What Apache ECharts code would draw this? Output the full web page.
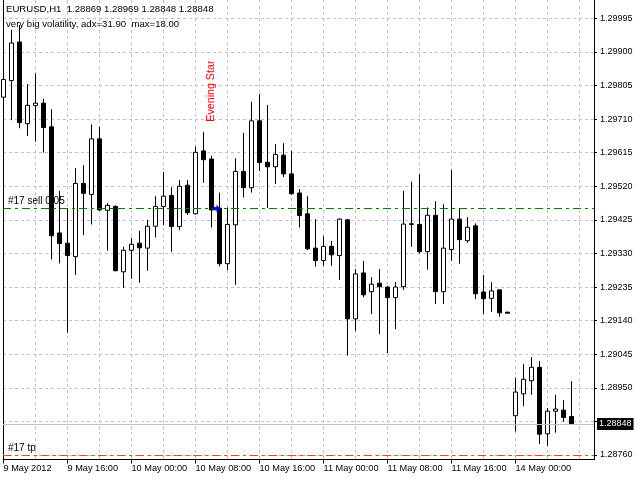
<!DOCTYPE html>
<html><head><meta charset="utf-8">
<script src="https://cdn.jsdelivr.net/npm/echarts@6/dist/echarts.min.js"></script>
<style>html,body{margin:0;padding:0;background:#fff}#c{width:640px;height:480px}</style>
</head><body><div id="c"></div>
<script>
const symbolName = 'EURUSD,H1';
const indicatorText = 'very big volatility, adx=31.90  max=18.00';

const opens = [1.29772,1.29819,1.29928,1.29697,1.29748,1.29755,1.29688,1.29388,1.29359,1.29321,
1.29528,1.29497,1.29654,1.29452,1.29463,1.29278,1.29339,1.29359,1.29345,1.29407,
1.29463,1.29494,1.29406,1.29523,1.29442,1.29620,1.29597,1.29458,1.29301,1.29411,
1.29562,1.29516,1.29705,1.29588,1.29575,1.29608,1.29555,1.29501,1.29442,1.29345,
1.29310,1.29350,1.29324,1.29425,1.29145,1.29275,1.29222,1.29246,1.29235,1.29205,
1.29236,1.29412,1.29412,1.29335,1.29438,1.29222,1.29341,1.29427,1.29366,1.29408,
1.29221,1.29203,1.29227,1.29164,1.28871,1.28933,1.28970,1.29008,1.28820,1.28884,
1.28887,1.28869];
const highs = [1.29910,1.29962,1.29976,1.29809,1.29839,1.29767,1.29738,1.29507,1.29458,1.29571,
1.29580,1.29695,1.29688,1.29472,1.29466,1.29349,1.29374,1.29394,1.29425,1.29492,
1.29560,1.29517,1.29538,1.29538,1.29632,1.29674,1.29606,1.29502,1.29460,1.29599,
1.29671,1.29759,1.29781,1.29750,1.29639,1.29642,1.29620,1.29512,1.29492,1.29427,
1.29379,1.29365,1.29429,1.29427,1.29286,1.29309,1.29263,1.29286,1.29238,1.29249,
1.29507,1.29533,1.29555,1.29460,1.29478,1.29469,1.29566,1.29458,1.29433,1.29415,
1.29269,1.29249,1.29227,1.29164,1.28979,1.29017,1.29037,1.29026,1.28893,1.28930,
1.28915,1.28969];
const lows = [1.29736,1.29707,1.29684,1.29662,1.29646,1.29615,1.29313,1.29302,1.29106,1.29269,
1.29382,1.29412,1.29450,1.29338,1.29280,1.29233,1.29258,1.29247,1.29281,1.29375,
1.29410,1.29335,1.29396,1.29439,1.29440,1.29530,1.29403,1.29293,1.29283,1.29241,
1.29488,1.29502,1.29563,1.29458,1.29526,1.29546,1.29495,1.29403,1.29340,1.29293,
1.29295,1.29295,1.29255,1.29041,1.29111,1.29206,1.29159,1.29102,1.29048,1.29116,
1.29227,1.29349,1.29330,1.29284,1.29187,1.29187,1.29309,1.29301,1.29360,1.29201,
1.29159,1.29165,1.29151,1.29161,1.28826,1.28898,1.28930,1.28791,1.28786,1.28823,
1.28854,1.28848];
const closes = [1.29822,1.29925,1.29700,1.29749,1.29755,1.29686,1.29380,1.29358,1.29324,1.29528,
1.29500,1.29654,1.29453,1.29466,1.29281,1.29339,1.29356,1.29346,1.29407,1.29463,
1.29492,1.29406,1.29520,1.29445,1.29616,1.29595,1.29453,1.29301,1.29412,1.29562,
1.29516,1.29705,1.29587,1.29575,1.29610,1.29555,1.29499,1.29437,1.29343,1.29310,
1.29350,1.29326,1.29427,1.29145,1.29272,1.29213,1.29243,1.29236,1.29205,1.29235,
1.29413,1.29414,1.29335,1.29438,1.29222,1.29345,1.29427,1.29369,1.29404,1.29216,
1.29202,1.29224,1.29162,1.29161,1.28938,1.28974,1.29008,1.28819,1.28884,1.28890,
1.28866,1.28848];

const timeTickBars = [0,8,16,24,32,40,48,56,64];
const timeTickLabels = ['9 May 2012','9 May 16:00','10 May 00:00','10 May 08:00','10 May 16:00',
  '11 May 00:00','11 May 08:00','11 May 16:00','14 May 00:00'];
const gridBars = [0,4,8,12,16,20,24,28,32,36,40,44,48,52,56,60,64,68,72];
const priceTicks = [1.28760,1.28855,1.28950,1.29045,1.29140,1.29235,1.29330,1.29425,1.29520,1.29615,1.29710,1.29805,1.29900,1.29995];
const priceLabels = [1.28760,1.28950,1.29045,1.29140,1.29235,1.29330,1.29425,1.29520,1.29615,1.29710,1.29805,1.29900,1.29995];

const orderText = '#17 sell 0.05';
const orderEntryBar = 27;
const orderEntryPrice = 1.29457;
const tpText = '#17 tp';
const tpPrice = 1.28760;
const patternName = 'Evening Star';
const patternBar = 26;
const patternPrice = 1.29789;
const lastIdx = closes.length - 1;
const currentPrice = closes[lastIdx];

const candleData = opens.map((o, i) => [i, o, closes[i], lows[i], highs[i]]);
const headerText = symbolName + '  ' + [opens[lastIdx], highs[lastIdx], lows[lastIdx], closes[lastIdx]].map(v => v.toFixed(5)).join(' ');

const FONT = 'Liberation Sans';
const chart = echarts.init(document.getElementById('c'), null, {renderer: 'canvas'});
const xMin = -0.0625, xMax = 73.8125;
chart.setOption({
  animation: false,
  backgroundColor: '#fff',
  title: [
    {text: headerText, left: 6, top: 4, padding: 0, textStyle: {fontFamily: FONT, fontSize: 9.6, fontWeight: 'normal', color: '#000'}},
    {text: indicatorText, left: 6, top: 19, padding: 0, textStyle: {fontFamily: FONT, fontSize: 9.6, fontWeight: 'normal', color: '#000'}}
  ],
  grid: {left: 3, right: 46, top: 0, bottom: 20.5, show: false},
  xAxis: [
    {
      type: 'value', min: xMin, max: xMax, position: 'bottom',
      axisLine: {show: true, onZero: false, lineStyle: {color: '#000', width: 1}},
      axisTick: {show: true, length: 4, customValues: timeTickBars, lineStyle: {color: '#000'}},
      axisLabel: {show: true, customValues: timeTickBars, align: 'left', margin: 4,
        fontFamily: FONT, fontSize: 9.2, color: '#000',
        formatter: v => timeTickLabels[timeTickBars.indexOf(Math.round(v))] || ''},
      splitLine: {show: false}
    },
    {
      type: 'value', min: xMin, max: xMax, position: 'bottom',
      axisLine: {show: false, onZero: false}, axisLabel: {show: false},
      axisTick: {show: false, customValues: gridBars},
      splitLine: {show: true, lineStyle: {color: '#c0c0c0', type: [3, 3], width: 1}}
    }
  ],
  yAxis: [
    {
      type: 'value', position: 'right', min: 1.287473, max: 1.300467, scale: true,
      axisLine: {show: true, onZero: false, lineStyle: {color: '#000', width: 1}},
      axisTick: {show: true, length: 3, customValues: priceTicks, lineStyle: {color: '#000'}},
      axisLabel: {show: true, customValues: priceLabels, margin: 6, fontFamily: FONT, fontSize: 9, color: '#000',
        formatter: v => v.toFixed(5)},
      splitLine: {show: true, lineStyle: {color: '#c0c0c0', type: [3, 3], width: 1}}
    },
    {
      type: 'value', position: 'left', min: 1.287473, max: 1.300467, scale: true,
      axisLine: {show: true, onZero: false, lineStyle: {color: '#000', width: 1}},
      axisTick: {show: false}, axisLabel: {show: false}, splitLine: {show: false}
    }
  ],
  series: [{
    type: 'candlestick',
    xAxisIndex: 0, yAxisIndex: 0,
    encode: {x: 0, y: [1, 2, 3, 4]},
    data: candleData,
    barWidth: 4,
    clip: true,
    itemStyle: {color: '#fff', color0: '#000', borderColor: '#000', borderColor0: '#000', borderColorDoji: '#000', borderWidth: 1},
    markLine: {
      silent: true, symbol: ['none', 'none'], animation: false, precision: 5,
      data: [
        {yAxis: currentPrice, lineStyle: {color: '#c0c0c0', type: 'solid', width: 1},
          label: {show: true, position: 'end', formatter: currentPrice.toFixed(5), color: '#fff', backgroundColor: '#000',
            padding: [2, 2, 1, 2], distance: 3, fontFamily: FONT, fontSize: 9}},
        {yAxis: orderEntryPrice, lineStyle: {color: '#008000', type: [8, 4, 3, 4], width: 1},
          label: {show: true, position: 'insideStartTop', formatter: orderText, color: '#000', fontFamily: FONT, fontSize: 10, distance: [5, 2]}},
        {yAxis: tpPrice, lineStyle: {color: '#ff4500', type: [8, 4, 3, 4], width: 1},
          label: {show: true, position: 'insideStartTop', formatter: tpText, color: '#000', fontFamily: FONT, fontSize: 10, distance: [5, 2]}}
      ]
    },
    markPoint: {
      silent: true, animation: false,
      data: [
        {coord: [patternBar, patternPrice], symbol: 'circle', symbolSize: 0,
          label: {show: true, position: 'inside', rotate: 90, align: 'center', verticalAlign: 'middle',
            formatter: patternName, color: '#ff0000', fontFamily: FONT, fontSize: 10.7}},
        {coord: [orderEntryBar, orderEntryPrice], symbol: 'path://M0,3 L5,3 L5,0 L10,5 L5,10 L5,7 L0,7 Z',
          symbolSize: [7, 8], symbolOffset: [-3, 0], itemStyle: {color: '#0000ff'}, label: {show: false}}
      ]
    }
  }]
});
</script></body></html>
